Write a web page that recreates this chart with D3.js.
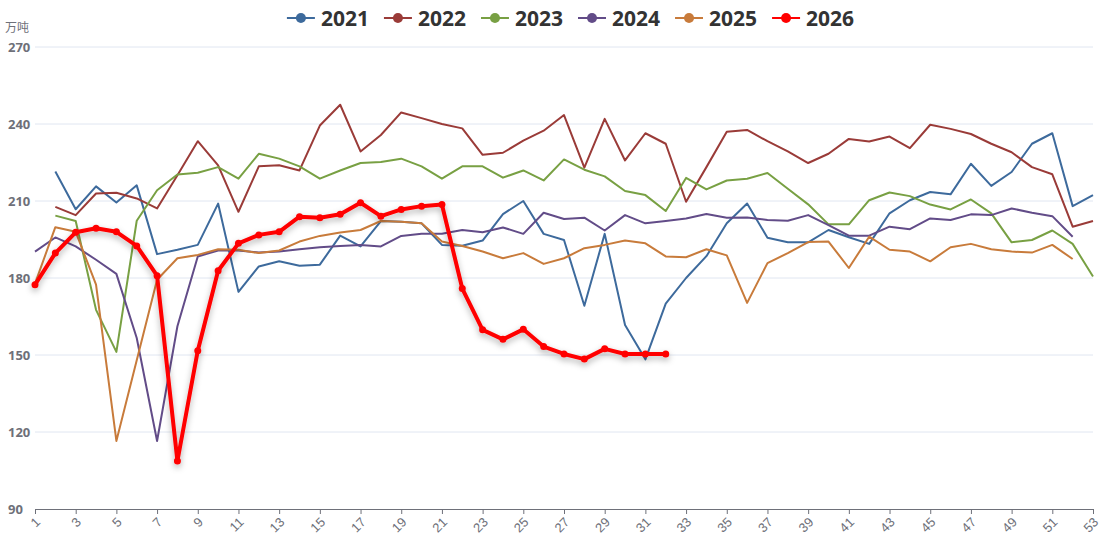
<!DOCTYPE html>
<html>
<head>
<meta charset="utf-8">
<script src="https://cdn.jsdelivr.net/npm/d3@7"></script>
<style>
  body { margin: 0; background: #fff; }
  svg { display: block; font-family: "Open Sans", "Noto Sans", sans-serif; }
</style>
</head>
<body>
<div id="chart"></div>
<script>
// Weekly figures (万吨), week 1..53
const weeks = [1,2,3,4,5,6,7,8,9,10,11,12,13,14,15,16,17,18,19,20,21,22,23,24,25,26,27,
  28,29,30,31,32,33,34,35,36,37,38,39,40,41,42,43,44,45,46,47,48,49,50,51,52,53];
const yTicks = [90, 120, 150, 180, 210, 240, 270];
const xTickWeeks = [1,3,5,7,9,11,13,15,17,19,21,23,25,27,29,31,33,35,37,39,41,43,45,47,49,51,53];

const years = ["2021", "2022", "2023", "2024", "2025", "2026"];
const colors = ["#3d6a9c", "#9a3b38", "#78a043", "#624c88", "#c87b3b", "#ff0000"];

const v2021 = [null, 221.5, 206.8, 215.7, 209.4, 216.1, 189.3, 191, 192.9, 209, 174.6, 184.5, 186.5,
  184.8, 185.2, 196.5, 192.3, 202.2, 201.9, 201.3, 192.9, 192.6, 194.6, 204.9, 210, 197.2,
  194.8, 169.2, 197.2, 161.7, 148.3, 170, 180, 188.5, 201.3, 209, 195.7, 193.9, 193.9,
  198.7, 195.9, 193.3, 205.2, 210.3, 213.5, 212.6, 224.5, 215.9, 221.3, 232.3, 236.4, 208, 212.3];
const v2022 = [null, 207.7, 204.5, 212.9, 213.2, 211, 207.1, 220, 233.3, 223.9, 205.8, 223.5, 223.9,
  221.9, 239.4, 247.5, 229.3, 235.7, 244.5, 242.3, 240, 238.3, 228, 228.8, 233.5, 237.4,
  243.5, 223, 242, 225.8, 236.4, 232.3, 209.7, 223.2, 237, 237.7, 233.3, 229.3, 224.8,
  228.4, 234.2, 233.2, 235.1, 230.6, 239.7, 238.1, 236.1, 232.3, 229, 223.2, 220.4, 200, 202.2];
const v2023 = [null, 204.3, 202.2, 167.6, 151.2, 202.3, 214.2, 220.3, 221, 223.2, 218.7, 228.4, 226.5,
  223.5, 218.7, 221.9, 224.8, 225.2, 226.5, 223.5, 218.7, 223.5, 223.5, 219.1, 221.9, 218,
  226.2, 222.2, 219.6, 213.9, 212.3, 206.1, 219, 214.5, 218, 218.7, 220.9, 214.8, 208.7,
  200.9, 200.9, 210.3, 213.3, 211.9, 208.6, 206.7, 210.6, 205.2, 193.9, 194.8, 198.5, 193.3, 180.6];
const v2024 = [190.3, 195.8, 192.3, 187.1, 181.6, 156.6, 116.5, 161.2, 188.4, 190.7, 190.7, 189.9, 190.3,
  191.2, 192, 192.5, 192.9, 192.3, 196.4, 197.2, 197.2, 198.7, 197.8, 199.7, 197.2, 205.4,
  203, 203.5, 198.5, 204.5, 201.3, 202.2, 203.2, 204.9, 203.5, 203.6, 202.6, 202.3, 204.5,
  200.6, 196.5, 196.5, 200, 199, 203.2, 202.6, 204.8, 204.5, 207.1, 205.4, 204.1, 196.1, null];
const v2025 = [177.8, 199.8, 198, 177.4, 116.5, 148, 179.3, 187.7, 189, 191.2, 191, 189.7, 190.7,
  194.2, 196.4, 197.7, 198.7, 202.2, 201.9, 201.3, 194.2, 192.5, 190.3, 187.7, 189.7, 185.5,
  187.7, 191.6, 192.9, 194.6, 193.5, 188.4, 188.1, 191.2, 188.8, 170.3, 185.8, 189.7, 194,
  194.2, 183.9, 196.1, 191, 190.3, 186.5, 192, 193.3, 191.2, 190.3, 189.9, 192.9, 187.4, null];
const v2026 = [177.4, 189.7, 197.8, 199.4, 198, 192.5, 180.9, 108.7, 151.7, 182.8, 193.5, 196.8, 198,
  203.9, 203.5, 204.8, 209.3, 204.1, 206.7, 208, 208.6, 175.9, 159.8, 156.1, 160, 153.3,
  150.4, 148.4, 152.4, 150.4, 150.4, 150.4];

const seriesValues = [v2021, v2022, v2023, v2024, v2025, v2026];

const W = 1101, H = 539;
const margin = {top: 47, right: 8, bottom: 30, left: 35};

const svg = d3.select("#chart").append("svg")
  .attr("width", W)
  .attr("height", H);

// drop shadow for the highlighted series
const defs = svg.append("defs");
const filt = defs.append("filter").attr("id", "shadow")
  .attr("x", "-5%").attr("y", "-20%").attr("width", "110%").attr("height", "140%");
filt.append("feDropShadow")
  .attr("dx", 0).attr("dy", 3).attr("stdDeviation", 3)
  .attr("flood-color", "#000").attr("flood-opacity", 0.3);

const x = d3.scaleLinear()
  .domain([1, 53])
  .range([margin.left, W - margin.right]);

const y = d3.scaleLinear()
  .domain([90, 270])
  .range([H - margin.bottom, margin.top]);

// gridlines
svg.append("g")
  .selectAll("line")
  .data(yTicks.filter(t => t > 90))
  .enter().append("line")
  .attr("x1", margin.left)
  .attr("x2", W - margin.right)
  .attr("y1", d => y(d))
  .attr("y2", d => y(d))
  .attr("stroke", "#e0e6f1")
  .attr("stroke-width", 1);

// y labels
svg.append("g")
  .selectAll("text")
  .data(yTicks)
  .enter().append("text")
  .attr("x", 8)
  .attr("y", d => y(d))
  .attr("dy", "0.35em")
  .style("font-size", "13px")
  .style("font-weight", "bold")
  .style("fill", "#6e7079")
  .text(d => d);

svg.append("text")
  .attr("x", 5)
  .attr("y", 32)
  .style("font-family", "'Noto Sans CJK SC', sans-serif")
  .style("font-size", "12px")
  .style("fill", "#6e7079")
  .text("万吨");

// x axis
const xAxis = svg.append("g")
  .attr("transform", `translate(0,${H - margin.bottom})`)
  .call(d3.axisBottom(x).tickValues(xTickWeeks).tickSize(5).tickFormat(d3.format("d")));
xAxis.select(".domain").attr("stroke", "#6e7079");
xAxis.selectAll(".tick line").attr("stroke", "#6e7079");
xAxis.selectAll(".tick text")
  .attr("fill", "#6e7079")
  .style("font-size", "13px")
  .attr("text-anchor", "end")
  .attr("dx", "-0.45em")
  .attr("dy", "0.45em")
  .attr("transform", "rotate(-45)");

// lines
const line = d3.line()
  .defined(d => d.v !== null)
  .x(d => x(d.w))
  .y(d => y(d.v));

years.forEach((yr, i) => {
  const pts = seriesValues[i].map((v, j) => ({w: weeks[j], v: v}));
  const hl = yr === "2026";
  const g = svg.append("g");
  if (hl) g.attr("filter", "url(#shadow)");
  g.append("path")
    .datum(pts)
    .attr("d", line)
    .attr("fill", "none")
    .attr("stroke", colors[i])
    .attr("stroke-width", hl ? 4 : 2)
    .attr("stroke-linejoin", "round");
  if (hl) {
    g.selectAll("circle")
      .data(pts.filter(d => d.v !== null))
      .enter().append("circle")
      .attr("cx", d => x(d.w))
      .attr("cy", d => y(d.v))
      .attr("r", 3.5)
      .attr("fill", colors[i]);
  }
});

// legend
const legend = svg.append("g");
let lx = 0;
years.forEach((yr, i) => {
  const item = legend.append("g").attr("transform", `translate(${lx},0)`);
  item.append("line")
    .attr("x1", 0).attr("x2", 28)
    .attr("y1", 0).attr("y2", 0)
    .attr("stroke", colors[i]).attr("stroke-width", 2);
  item.append("circle")
    .attr("cx", 14).attr("cy", 0).attr("r", 5)
    .attr("fill", colors[i]);
  const t = item.append("text")
    .attr("x", 34)
    .attr("dy", "0.36em")
    .style("font-size", "21px")
    .style("font-weight", "bold")
    .style("fill", "#333")
    .text(yr);
  lx += 34 + t.node().getComputedTextLength() + 15;
});
lx -= 15;
legend.attr("transform", `translate(${(W - lx) / 2 + 20},18)`);
</script>
</body>
</html>
